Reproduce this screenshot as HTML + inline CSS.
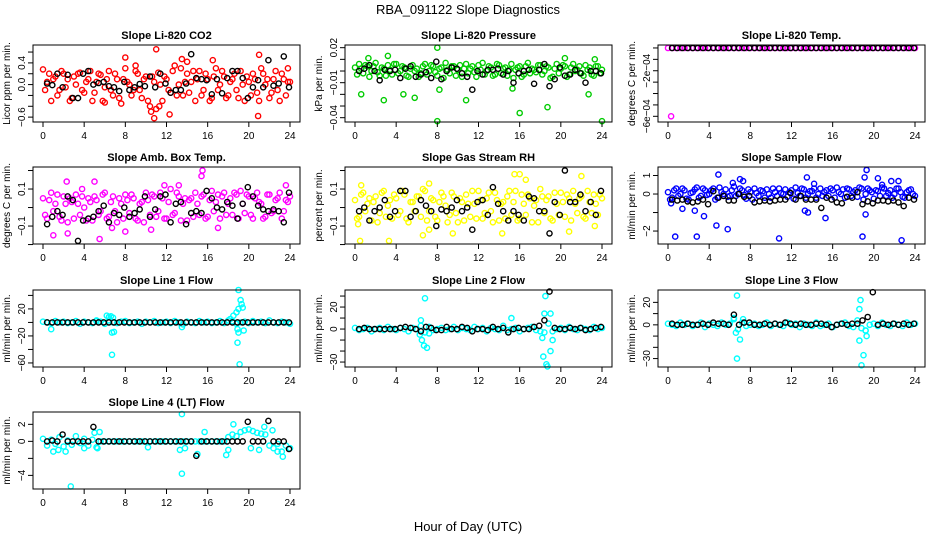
<!DOCTYPE html>
<html><head><meta charset="utf-8"><style>
html,body{margin:0;padding:0;background:#fff;}
svg{display:block;font-family:"Liberation Sans",Arial,sans-serif;}
</style></head><body>
<svg id="chart" width="936" height="540" viewBox="0 0 936 540" xmlns="http://www.w3.org/2000/svg">
<text x="468" y="14" text-anchor="middle" font-size="13">RBA_091122  Slope Diagnostics</text>
<text x="468" y="531" text-anchor="middle" font-size="13">Hour of Day (UTC)</text>
</svg>
<script>
const hoursA=[0,0.4,0.8,1.2,1.6,2,2.4,2.8,3.2,3.6,4,4.4,4.8,5.2,5.6,6,6.4,6.8,7.2,7.6,8,8.4,8.8,9.2,9.6,10,10.4,10.8,11.2,11.6,12,12.4,12.8,13.2,13.6,14,14.4,14.8,15.2,15.6,16,16.4,16.8,17.2,17.6,18,18.4,18.8,19.2,19.6,20,20.4,20.8,21.2,21.6,22,22.4,22.8,23.2,23.6,24];
const hoursA2=[0.2,0.6,1,1.4,1.8,2.2,2.6,3,3.4,3.8,4.2,4.6,5,5.4,5.8,6.2,6.6,7,7.4,7.8,8.2,8.6,9,9.4,9.8,10.2,10.6,11,11.4,11.8,12.2,12.6,13,13.4,13.8,14.2,14.6,15,15.4,15.8,16.2,16.6,17,17.4,17.8,18.2,18.6,19,19.4,19.8,20.2,20.6,21,21.4,21.8,22.2,22.6,23,23.4,23.8];
const hoursB=[0.5,1,1.5,2,2.5,3,3.5,4,4.5,5,5.5,6,6.5,7,7.5,8,8.5,9,9.5,10,10.5,11,11.5,12,12.5,13,13.5,14,14.5,15,15.5,16,16.5,17,17.5,18,18.5,19,19.5,20,20.5,21,21.5,22,22.5,23,23.5,24];

const co2Main=[0.28,0.05,-0.3,0.15,-0.1,0.2,0.1,-0.25,0,0.22,-0.15,0.1,-0.3,0.05,0.18,-0.05,0.25,-0.2,0.1,-0.35,0.3,0,-0.1,0.2,-0.25,0.15,-0.4,0.05,0.22,-0.3,0.1,-0.15,0.35,0,-0.2,0.2,0.05,-0.3,0.25,-0.1,0.1,-0.25,0.3,0,0.15,-0.2,0.1,-0.1,0.25,-0.3,0.05,0.2,-0.15,0.3,0,-0.25,0.1,-0.1,0.2,-0.2,0.05];
const co2Alt=[-0.1,0.2,0.1,-0.2,0.25,-0.05,-0.3,0.15,0.2,-0.1,0.05,0.25,-0.15,0.2,-0.3,0.1,-0.1,0.2,-0.25,0.1,0.05,-0.2,0.25,-0.1,0.1,-0.3,0.15,-0.45,0,0.15,-0.1,0.25,-0.2,0.3,0.05,-0.15,0.25,0.1,-0.2,0.2,-0.3,0.15,-0.1,0.25,-0.25,0.05,0.2,-0.25,0,0.15,-0.2,0.1,-0.3,0.2,0.1,-0.15,0.25,-0.3,0.1,0.05];
const co2Out=[[11,0.65],[10.8,-0.62],[12.3,-0.55],[8,0.5],[13.5,0.47],[20.9,-0.58],[21,0.55],[6,-0.33],[14,0.42],[23.8,0.3],[9,0.35],[10.5,-0.5],[11.3,-0.4],[16.5,0.45]];
const co2Black=[0.02,-0.01,0.2,-0.05,0.18,-0.25,-0.25,0.2,0.25,0,0.03,0.05,-0.03,-0.05,-0.12,0.05,-0.1,-0.05,0.01,-0.03,0.15,-0.05,0.2,0.02,-0.15,-0.1,-0.1,0.02,0.56,0.12,0.1,0.08,-0.18,0.1,-0.16,0.12,0.25,0.25,0.12,-0.25,-0.05,0.08,-0.05,0.45,-0.02,0.02,0.52,-0.05];

const presMain=[0.003,0.006,-0.002,0.004,0,0.007,-0.004,0.002,0.005,-0.003,0.006,0,0.003,-0.005,0.005,0.002,-0.002,0.006,0,0.004,-0.004,0.003,0.007,-0.002,0.004,0.001,-0.005,0.006,0.002,-0.001,0.005,0.007,0,0.003,-0.003,0.005,0.002,-0.004,0.006,0.001,0.004,-0.003,0.007,0.002,-0.001,0.005,0,0.003,-0.005,0.006,0.002,0.004,-0.003,0.006,0.001,-0.002,0.005,0.003,-0.004,0.004,0.001];
const presAlt=[-0.003,0.002,0.005,-0.005,0.004,-0.001,0.003,-0.004,0.001,0.006,-0.002,0.004,-0.004,0.002,0,-0.005,0.004,-0.003,0.005,-0.001,0.002,-0.006,0.001,0.004,-0.004,0.005,0.002,-0.002,0.004,-0.005,0.001,-0.003,0.004,-0.004,0.006,-0.002,0.003,0.001,-0.006,0.003,-0.005,0.004,-0.002,0.001,0.005,-0.003,0.004,-0.006,0.002,-0.002,0.005,-0.005,0.003,0,0.004,-0.004,0.001,-0.003,0.004,-0.002];
const presOut=[[0.6,-0.02],[2.8,-0.025],[4.7,-0.02],[5.8,-0.023],[8,0.02],[8,-0.043],[3.2,0.013],[24,-0.043],[16,-0.036],[18.7,-0.031],[10.8,-0.025],[22.7,-0.02],[20.4,0.011],[23.3,0.01],[1.3,0.011],[15.3,-0.015],[8.2,-0.016]];
const presBlack=[0,0.002,0.005,0,-0.008,0.001,0,0.001,-0.006,0.002,0.004,-0.005,-0.003,-0.001,-0.006,0.008,-0.007,0,0.003,0.002,-0.002,-0.005,-0.016,0,-0.003,0.001,0.001,0.002,-0.003,0,-0.01,-0.002,0,0.001,-0.011,0.001,0.006,-0.013,-0.007,0.003,-0.004,-0.003,0.001,-0.002,-0.01,0,0,-0.002];

const tempMain=[0,0,0,0,0,0,0,0,0,0,0,0,0,0,0,0,0,0,0,0,0,0,0,0,0,0,0,0,0,0,0,0,0,0,0,0,0,0,0,0,0,0,0,0,0,0,0,0,0,0,0,0,0,0,0,0,0,0,0,0,0];
const tempOut=[[0.3,-0.0006]];
const tempBlack=[0,0,0,0,0,0,0,0,0,0,0,0,0,0,0,0,0,0,0,0,0,0,0,0,0,0,0,0,0,0,0,0,0,0,0,0,0,0,0,0,0,0,0,0,0,0,0,0,0];

const ambMain=[0.05,-0.06,0.08,0.02,-0.05,0.06,-0.08,0.03,0.07,-0.04,0,0.05,-0.07,0.04,-0.02,0.08,-0.05,0.06,-0.08,0.02,0.07,-0.03,0.05,-0.07,0.03,0.08,-0.04,0.06,-0.02,0.05,-0.06,0.1,-0.03,0.06,0.02,-0.07,0.05,0.08,-0.04,0.07,-0.05,0.09,0.03,-0.06,0.08,0.02,-0.04,0.07,0.09,-0.03,0.06,-0.06,0.08,0.02,-0.05,0.07,-0.02,0.05,-0.06,0.04,0.06];
const ambAlt=[-0.04,0.04,-0.02,0.07,-0.07,0.02,0.05,-0.06,0.02,0.06,-0.07,0.03,0.06,-0.04,0.07,-0.06,0.03,-0.02,0.05,-0.06,0.04,0.07,-0.06,0.02,-0.08,0.04,0.07,-0.05,0.08,-0.06,0.03,-0.04,0.08,-0.07,0.05,0.04,-0.05,0.02,0.06,-0.06,0.04,-0.02,0.07,0.06,-0.04,0.05,0.08,-0.06,0.02,0.07,-0.04,0.05,0.03,-0.06,0.07,-0.03,0.04,0.08,-0.02,0.03];
const ambOut=[[15.5,0.2],[15.4,0.17],[2.3,0.14],[5,0.14],[1,-0.15],[5.5,-0.17],[8,-0.13],[11.8,0.12],[23.6,0.12],[13.2,0.12],[10.5,-0.12],[17,-0.11],[2.4,-0.14],[6.7,-0.11],[3.8,0.1]];
const ambBlack=[-0.09,-0.05,-0.02,-0.04,0.06,0.04,-0.18,-0.07,-0.06,-0.05,-0.02,0.01,-0.08,-0.03,-0.04,0,-0.05,-0.03,-0.01,0.06,-0.05,-0.01,0.06,0.07,-0.08,0.02,0.03,-0.09,-0.03,-0.02,-0.03,0.09,0.05,0,-0.01,0.03,0.01,-0.06,0.02,0.11,0.06,0.01,-0.01,-0.02,-0.01,-0.02,-0.08,0.08];

const rhMain=[0.04,-0.05,0.08,0.02,-0.07,0.06,-0.03,0.09,0.01,-0.06,0.05,-0.02,0.07,-0.08,0.03,0.06,-0.05,0.09,-0.02,0.04,-0.07,0.08,0.01,-0.04,0.06,-0.08,0.03,0.07,-0.05,0.02,0.09,-0.06,0.05,-0.02,0.08,-0.07,0.03,0.06,-0.04,0.09,-0.06,0.02,0.07,-0.08,0.04,0.1,-0.03,0.06,-0.07,0.02,0.08,-0.05,0.05,0.09,-0.03,0.06,-0.06,0.03,0.07,-0.04,0.05];
const rhAlt=[-0.06,0.07,-0.02,0.05,0.03,-0.08,0.08,-0.05,0.04,0.07,-0.04,0.09,-0.06,0.03,-0.02,0.06,0.1,-0.07,0.05,-0.05,0.03,0.06,-0.08,0.08,-0.03,0.05,-0.07,0.02,0.09,-0.06,0.04,-0.03,0.08,-0.08,0.04,0.02,-0.06,0.09,0.03,-0.07,0.07,-0.04,0.05,0.01,-0.08,0.06,0.04,-0.06,0.08,-0.04,0.03,0.07,-0.07,0.02,0.05,-0.05,0.09,-0.03,0.02,0.07];
const rhOut=[[0.5,-0.18],[3.3,-0.18],[15.5,0.18],[16,0.18],[22,0.17],[0.6,0.12],[0.3,-0.09],[6.6,-0.15],[7.2,-0.12],[9.5,-0.14],[14.3,-0.14],[16.6,0.15],[20.8,-0.13],[23.3,-0.1],[7.2,0.13]];
const rhBlack=[-0.02,0,-0.07,-0.02,0,0.04,-0.05,-0.02,0.09,0.09,-0.05,-0.02,0.04,0.01,-0.02,-0.1,-0.01,-0.02,0,0.04,-0.02,0,-0.12,0.03,0.04,-0.04,0.11,0.02,-0.02,-0.07,-0.02,-0.04,-0.07,0.06,0.05,-0.02,-0.02,-0.14,0.03,-0.04,0.2,0.03,0.03,0.07,-0.02,0.03,-0.04,0.09];

const flowMain=[0.1,-0.2,0.3,0,0.2,-0.3,0.1,0.35,-0.1,0.2,0,0.3,-0.2,0.1,0.25,-0.1,0.4,0,0.2,-0.25,0.1,0.3,-0.1,0.15,0.25,-0.2,0.1,0.3,0,-0.15,0.2,0.35,-0.1,0.25,0,0.15,-0.2,0.3,0.1,-0.1,0.2,0.35,0,-0.2,0.25,0.1,-0.15,0.3,0,0.2,-0.25,0.15,0.35,-0.1,0.2,0,0.3,-0.15,0.1,0.25,-0.1];
const flowAlt=[-0.3,0.2,-0.1,0.3,-0.25,0.05,0.25,-0.2,0.3,-0.05,0.2,-0.3,0.35,0,-0.15,0.2,-0.1,0.3,-0.05,0.25,-0.3,0.05,0.2,-0.2,0,0.3,-0.1,0.05,0.25,0.1,-0.25,0.05,0.3,-0.2,0.15,0.3,0,-0.1,0.2,0.3,-0.2,0.1,0.25,0.3,-0.1,0.2,0.35,-0.3,0.3,0.1,0.2,-0.1,0.3,0.05,-0.2,0.3,0.1,-0.2,0.2,0];
const flowOut=[[0.7,-2.3],[2.8,-2.3],[3.5,-1.2],[4.7,-1.7],[5.8,-1.9],[4.9,1.05],[10.8,-2.4],[13.5,0.9],[15.3,-1.3],[18.9,-2.3],[19.2,-1.1],[19.3,1.3],[22.7,-2.5],[20.4,0.85],[13.3,-0.9],[13.6,-1],[7,0.8],[7.3,0.7],[1.4,-0.8],[2.6,-0.9],[6.3,0.6],[21.7,0.7],[22.4,0.7],[0.3,-0.5],[19.1,0.9],[20.8,0.5],[14.2,0.55]];
const flowBlack=[-0.3,-0.35,-0.3,-0.4,-0.45,-0.4,-0.3,-0.55,0.15,-0.2,-0.1,-0.35,-0.35,0,-0.15,-0.1,-0.45,-0.4,-0.35,-0.4,-0.35,-0.3,-0.3,0.05,-0.3,-0.1,-0.3,-0.3,-0.3,-0.75,-0.2,-0.3,-0.45,-0.5,-0.15,-0.2,0.1,-0.55,-0.4,-0.5,-0.35,-0.35,-0.4,-0.35,-0.45,-0.65,-0.2,-0.3];

const l1Main=[1,0,-1,2,0,1,-1,0,2,-2,1,0,-1,2,1,-2,3,0,-1,1,2,-1,0,1,-2,1,0,2,-1,0,1,-1,2,0,-3,1,0,-1,2,0,1,-1,0,2,-1,3,2,-2,0,1,-1,2,0,1,-1,3,0,-1,1,0,-2];
const l1Out=[[6.4,8],[6.6,9],[6.8,7],[6.7,-15],[6.9,-14],[6.7,-48],[0.8,-10],[18.2,5],[18.5,10],[18.8,15],[19,20],[19.3,27],[19.4,22],[19.2,33],[19,48],[18.9,-10],[19,-15],[18.9,-30],[19.1,-62],[19.5,-12],[13.5,-7],[5.2,3],[6.2,10]];
const l1Black=[0,0,0,0,0,0,0,0,0,0,0,0,0,0,0,0,0,0,0,0,0,0,0,0,0,0,0,0,0,0,0,0,0,0,0,0,0,0,0,0,0,0,0,0,0,0,0,0];

const l2Main=[1,-1,0,1,-2,0,1,-1,2,0,-1,1,0,-2,1,0,3,-3,2,-1,0,1,-1,0,2,-1,1,0,-1,2,0,1,-2,1,0,-1,3,-1,0,1,-2,0,1,2,-1,-2,-3,5,-2,0,1,-1,2,0,-1,1,0,-1,2,0,1];
const l2Out=[[6.8,28],[6.5,-10],[6.7,-15],[7,-17],[6.3,-5],[18.3,-25],[18.5,30],[18.6,-32],[18.7,-34],[19,14],[19,-20],[19.2,-10],[18.4,14],[15.2,10],[6.4,8],[7.2,-4],[18.2,-8]];
const l2Black=[0,1,0,0,0,0,0,0,1,2,1,0,-2,2,1,-1,-1,2,0,0,2,1,-2,0,0,-1,2,0,1,-3,0,1,0,0,2,3,8,34,1,0,0,1,0,1,-1,0,1,2];

const l3Main=[1,0,-1,2,0,1,-1,0,2,-2,1,0,-1,2,0,1,5,-4,2,-1,0,1,-1,0,2,-1,1,0,-1,2,0,1,-2,1,0,-1,2,-1,0,1,-2,0,1,2,-1,-2,4,-3,-5,0,1,-1,2,0,-1,1,0,-1,2,0,1];
const l3Out=[[6.7,26],[6.7,-30],[7,-13],[6.6,-7],[18.6,14],[18.7,22],[18.8,-36],[19,-27],[18.6,-14],[19.3,-10],[19.2,-5],[6.4,6],[7.3,5]];
const l3Black=[1,0,0,1,0,0,1,0,2,1,1,0,9,0,2,2,0,0,1,0,1,0,2,1,0,1,0,0,1,1,0,-2,0,1,0,1,1,4,7,29,0,1,0,1,0,1,0,1];

const l4Main=[0.3,-0.5,0.2,-0.3,0.5,-0.6,0.1,-0.4,0.6,-0.2,0.3,-0.5,0.2,-0.7,0,0,0,0,0,0,0,0,0,0,0,0,0,0,0,0,0,0,0,0,0,0,0,0,0,0,0,0,0,0,0,0.5,0.8,0.6,1.1,1.3,1.4,1.2,1,0.9,0.8,-0.5,-0.8,-0.3,-1.2,-0.5,-0.8];
const l4Out=[[13.5,3.2],[13.5,-3.8],[2.7,-5.3],[5.5,1.1],[15.7,1.1],[18.5,2],[17.8,-1.6],[21.5,1.7],[22.3,1.3],[23.3,-1.8],[1,-1.2],[1.5,-1],[2.2,-1.2],[4,-0.8],[5,1],[5.3,-0.8],[10.2,-0.7],[13.3,-1],[13.8,-0.8],[15,-1.5],[18,-1],[20.2,-0.8],[21,-1],[22.8,-1.2]];
const l4Black=[0,0.1,0,0.8,0,0,0,0,0,1.7,0,0,0,0,0,0,0,0,0,0,0,0,0,0,0,0,0,0,0,-1.7,0,0,0,0,0,0,0,0,0,2.3,0,0,0,2.4,0,0,0,-0.9];

const xTicks=[0,4,8,12,16,20,24];

const svg=document.getElementById('chart');
const NS='http://www.w3.org/2000/svg';
function mk(tag,attrs,parent){const e=document.createElementNS(NS,tag);for(const k in attrs)e.setAttribute(k,attrs[k]);(parent||svg).appendChild(e);return e;}

const colX=[33,345,658], rowY=[45,167,290,412], W=267, H=77;
const panels=[
 {key:'co2',title:'Slope Li-820 CO2',ylab:'Licor ppm per min.',col:0,row:0,color:'#ff0000',dom:[-0.69,0.73],ticks:[-0.6,-0.4,-0.2,0,0.2,0.4,0.6],labels:[[-0.6,'\u22120.6'],[0,'0.0'],[0.4,'0.4']],main:[co2Main,co2Alt],out:co2Out,black:co2Black},
 {key:'pressure',title:'Slope Li-820 Pressure',ylab:'kPa per min.',col:1,row:0,color:'#00cc00',dom:[-0.0437,0.0223],ticks:[-0.04,-0.03,-0.02,-0.01,0,0.01,0.02],labels:[[-0.04,'\u22120.04'],[-0.01,'\u22120.01'],[0.02,'0.02']],main:[presMain,presAlt],out:presOut,black:presBlack},
 {key:'temp',title:'Slope Li-820 Temp.',ylab:'degrees C per min.',col:2,row:0,color:'#ff00ff',dom:[-0.00065,0.000026],ticks:[-0.0006,-0.0005,-0.0004,-0.0003,-0.0002,-0.0001,0],labels:[[-0.0006,'\u22126e\u221204'],[-0.0002,'\u22122e\u221204']],main:[tempMain],out:tempOut,black:tempBlack},
 {key:'amb',title:'Slope Amb. Box Temp.',ylab:'degrees C per min.',col:0,row:1,color:'#ff00ff',dom:[-0.197,0.219],ticks:[-0.2,-0.1,0,0.1,0.2],labels:[[-0.1,'\u22120.1'],[0.1,'0.1']],main:[ambMain,ambAlt],out:ambOut,black:ambBlack},
 {key:'rh',title:'Slope Gas Stream RH',ylab:'percent per min.',col:1,row:1,color:'#ffff00',dom:[-0.197,0.219],ticks:[-0.2,-0.1,0,0.1,0.2],labels:[[-0.1,'\u22120.1'],[0.1,'0.1']],main:[rhMain,rhAlt],out:rhOut,black:rhBlack},
 {key:'flow',title:'Slope Sample Flow',ylab:'ml/min per min.',col:2,row:1,color:'#0000ff',dom:[-2.7,1.46],ticks:[-2,-1,0,1],labels:[[-2,'\u22122'],[0,'0'],[1,'1']],main:[flowMain,flowAlt],out:flowOut,black:flowBlack},
 {key:'line1',title:'Slope Line 1 Flow',ylab:'ml/min per min.',col:0,row:2,color:'#00ffff',dom:[-66,48],ticks:[-60,-40,-20,0,20,40],labels:[[-60,'\u221260'],[-20,'\u221220'],[20,'20']],main:[l1Main],out:l1Out,black:l1Black},
 {key:'line2',title:'Slope Line 2 Flow',ylab:'ml/min per min.',col:1,row:2,color:'#00ffff',dom:[-34.5,35.5],ticks:[-30,-20,-10,0,10,20,30],labels:[[-30,'\u221230'],[0,'0'],[20,'20']],main:[l2Main],out:l2Out,black:l2Black},
 {key:'line3',title:'Slope Line 3 Flow',ylab:'ml/min per min.',col:2,row:2,color:'#00ffff',dom:[-37.5,31],ticks:[-30,-20,-10,0,10,20],labels:[[-30,'\u221230'],[0,'0'],[20,'20']],main:[l3Main],out:l3Out,black:l3Black},
 {key:'line4',title:'Slope Line 4 (LT) Flow',ylab:'ml/min per min.',col:0,row:3,color:'#00ffff',dom:[-5.6,3.45],ticks:[-4,-2,0,2],labels:[[-4,'\u22124'],[0,'0'],[2,'2']],main:[l4Main],out:l4Out,black:l4Black}
];

panels.forEach(p=>{
  const L=colX[p.col], T=rowY[p.row];
  const g=mk('g',{});
  
  
  const xs=h=>L+10+h*(247/24);
  const ys=v=>T+H-(v-p.dom[0])/(p.dom[1]-p.dom[0])*H;
  const t=mk('text',{x:L+W/2,y:T-6,'text-anchor':'middle','font-size':'11','font-weight':'bold'},g);
  t.textContent=p.title;
  
  
  const yl=mk('text',{x:0,y:0,transform:`translate(${L-23},${T+H/2}) rotate(-90)`,'text-anchor':'middle','font-size':'10'},g);
  yl.textContent=p.ylab;
  
  
  const clip=mk('g',{},g);
  function pt(h,v,c){
    const c1=mk('circle',{cx:xs(h).toFixed(1),cy:ys(v).toFixed(1),r:2.6,fill:'none',stroke:c,'stroke-width':1.4},clip);
    
    
  }
  p.main.forEach((arr,i)=>{const hs=i===0?hoursA:hoursA2;for(let k=0;k<Math.min(arr.length,hs.length);k++)pt(hs[k],arr[k],p.color);});
  p.out.forEach(o=>pt(o[0],o[1],p.color));
  for(let k=0;k<Math.min(p.black.length,hoursB.length);k++)pt(hoursB[k]-0.1,p.black[k],'#000');
  const box=mk('rect',{x:L,y:T,width:W,height:H,fill:'none',stroke:'#000','stroke-width':1},g);
  
  
  xTicks.forEach(h=>{
    mk('line',{x1:xs(h),x2:xs(h),y1:T+H,y2:T+H+5,stroke:'#000'},g);
    const tl=mk('text',{x:xs(h),y:T+H+17,'text-anchor':'middle','font-size':'10'},g);
    tl.textContent=h;
    
    
  });
  p.ticks.forEach(v=>{const y=ys(v);if(y<T-1||y>T+H+1)return;mk('line',{x1:L-5,x2:L,y1:y,y2:y,stroke:'#000'},g);});
  p.labels.forEach(lb=>{
    const tl=mk('text',{x:0,y:0,transform:`translate(${L-8},${ys(lb[0])}) rotate(-90)`,'text-anchor':'middle','font-size':'10'},g);
    tl.textContent=lb[1];
    
    
  });
});
</script>
</body></html>
